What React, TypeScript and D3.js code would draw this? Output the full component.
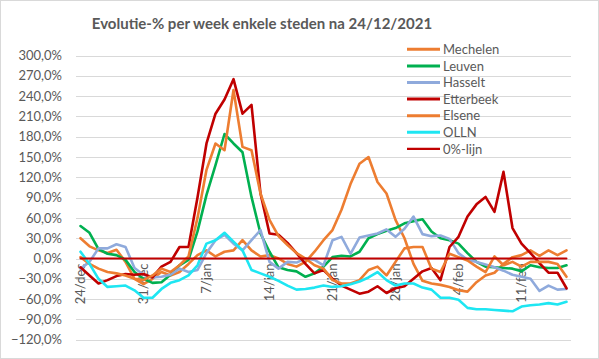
import React from "react";
import * as d3 from "d3";

const title = "Evolutie-% per week enkele steden na 24/12/2021";

const categories: string[] = [
  ...d3.range(24, 32).map((d) => `${d}/dec`),
  ...d3.range(1, 32).map((d) => `${d}/jan`),
  ...d3.range(1, 17).map((d) => `${d}/feb`),
];

const tickLabels = ["24/dec", "31/dec", "7/jan", "14/jan", "21/jan", "28/jan", "4/feb", "11/feb"];
const yTicks = [-120, -90, -60, -30, 0, 30, 60, 90, 120, 150, 180, 210, 240, 270, 300];

const mechelen = [30, 18, 12, 8, 13, -5, -30, -38, -30, -20, -25, -20, -8, 5, 12, 3, 10, 12, 27, 12, 3, 5, 0, -8, -12, -5, 10, 27, 42, 72, 110, 140, 150, 113, 96, 57, 30, -8, -33, -37, -39, -42, -47, -49, -35, -25, -21, -8, 2, 5, 12, 4, 12, 5, 12];
const leuven = [48, 38, 14, 7, 5, -2, -20, -30, -36, -35, -24, -10, -2, 40, 94, 138, 184, 170, 157, 91, 37, 10, -13, -17, -19, -27, -22, -12, 2, 4, 3, 10, 30, 36, 41, 45, 52, 55, 58, 40, 30, 27, 22, 8, -5, -12, -13, -14, -15, -19, -10, -13, -14, -14, -10];
const hasselt = [-15, -5, 15, 15, 21, 17, -14, -24, -28, -27, -24, -15, -20, -17, 8, 27, 35, 22, 12, 27, 42, -5, -15, -5, -6, 0, -2, -10, 27, 32, 7, 31, 34, 37, 43, 32, 44, 62, 36, 33, 34, 29, 8, -2, -5, -9, -13, -18, -24, -27, -30, -48, -40, -46, -45];
const etterbeek = [-13, -25, -37, -32, -26, -23, -24, -23, -28, -12, -5, 17, 17, 90, 170, 214, 235, 265, 214, 227, 96, 37, 35, 23, 8, -8, -22, -17, -30, -40, -46, -52, -49, -41, -51, -44, -41, -30, -19, -14, -32, 17, 32, 62, 80, 91, 69, 128, 45, 22, 8, -7, -21, -21, -44];
const elsene = [2, -8, -15, -20, -22, -25, -30, -32, -25, -15, -20, -10, 3, 60, 131, 170, 160, 249, 165, 160, 96, 57, 33, 20, 8, 0, -10, -15, -32, -37, -37, -32, -17, -12, -25, -5, 15, 17, 17, -15, -20, 7, 2, -3, -12, -20, 3, -10, -5, -12, -5, -5, -5, -8, -27];
const olln = [10, -8, -30, -42, -41, -40, -47, -58, -58, -45, -36, -32, -25, -10, 22, 27, 38, 25, 12, -17, -22, -27, -33, -40, -46, -45, -43, -40, -42, -41, -38, -34, -28, -20, -32, -40, -37, -37, -43, -46, -58, -58, -61, -73, -75, -75, -76, -77, -78, -71, -69, -68, -66, -68, -64];
const nulLijn = categories.map(() => 0);

const seriesNames = ["Mechelen", "Leuven", "Hasselt", "Etterbeek", "Elsene", "OLLN", "0%-lijn"];
const seriesValues = [mechelen, leuven, hasselt, etterbeek, elsene, olln, nulLijn];
const seriesColors = ["#ED7D31", "#00B050", "#8FAADC", "#C00000", "#ED7D31", "#1EE6F2", "#C00000"];
const seriesWidths = [2.6, 2.6, 2.6, 2.6, 2.6, 2.6, 2];

const W = 599;
const H = 359;
const FONT = "Lato, 'Open Sans', sans-serif";
const TEXT = "#595959";

export default function App() {
  const x = d3.scaleBand<string>().domain(categories).range([76, 571]);
  const y = d3.scaleLinear().domain([-120, 300]).range([339.7, 55.5]);
  const px = (c: string) => (x(c) as number) + x.bandwidth() / 2;
  const line = d3
    .line<number>()
    .x((_, i) => px(categories[i]))
    .y((v) => y(v));

  return (
    <svg
      width={W}
      height={H}
      style={{ position: "absolute", left: 0, top: 0, background: "#fff" }}
      fontFamily={FONT}
    >
      <rect x={0.5} y={0.5} width={W - 1} height={H - 1} fill="#fff" stroke="#d9d9d9" />
      <text x={262} y={28.5} textAnchor="middle" fontSize={15} fontWeight="bold" fill={TEXT}>
        {title}
      </text>
      {yTicks.map((t) => (
        <g key={t}>
          <line x1={76} x2={571} y1={Math.round(y(t)) + 0.5} y2={Math.round(y(t)) + 0.5} stroke="#d9d9d9" strokeWidth={1} />
          <text x={62} y={y(t)} dy="0.36em" textAnchor="end" fontSize={13} fill={TEXT}>
            {d3.format(".1f")(t).replace(".", ",") + "%"}
          </text>
        </g>
      ))}
      {tickLabels.map((l) => (
        <text
          key={l}
          transform={`translate(${px(l) + 4.5},${y(0) + 5}) rotate(-90)`}
          textAnchor="end"
          fontSize={13}
          fill={TEXT}
        >
          {l}
        </text>
      ))}
      {seriesValues.map((vals, k) => (
        <path
          key={seriesNames[k]}
          d={line(vals) as string}
          fill="none"
          stroke={seriesColors[k]}
          strokeWidth={seriesWidths[k]}
          strokeLinejoin="round"
          strokeLinecap="round"
        />
      ))}
      {seriesNames.map((n, k) => {
        const ly = 49.3 + k * 16.6;
        return (
          <g key={n}>
            <line x1={407} x2={440} y1={ly} y2={ly} stroke={seriesColors[k]} strokeWidth={seriesWidths[k] + 0.4} />
            <text x={443} y={ly} dy="0.36em" fontSize={13} fill={TEXT}>
              {n}
            </text>
          </g>
        );
      })}
    </svg>
  );
}
